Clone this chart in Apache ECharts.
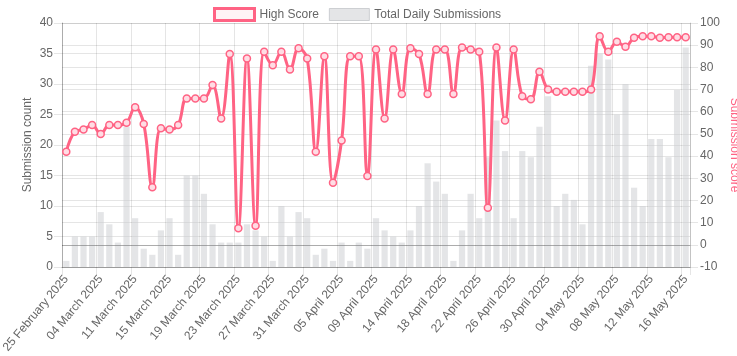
<!DOCTYPE html>
<html>
<head>
<meta charset="utf-8">
<script src="https://cdn.jsdelivr.net/npm/echarts@6/dist/echarts.min.js"></script>
<style>
html,body{margin:0;padding:0;background:#fff;}
#chart{width:737px;height:356px;}
</style>
</head>
<body>
<div id="chart"></div>
<script>
const dates = [
  "25 February 2025","26 February 2025","28 February 2025","02 March 2025",
  "04 March 2025","05 March 2025","07 March 2025","09 March 2025",
  "11 March 2025","12 March 2025","13 March 2025","14 March 2025",
  "15 March 2025","16 March 2025","17 March 2025","18 March 2025",
  "19 March 2025","20 March 2025","21 March 2025","22 March 2025",
  "23 March 2025","24 March 2025","25 March 2025","26 March 2025",
  "27 March 2025","28 March 2025","29 March 2025","30 March 2025",
  "31 March 2025","01 April 2025","02 April 2025","04 April 2025",
  "05 April 2025","06 April 2025","07 April 2025","08 April 2025",
  "09 April 2025","10 April 2025","11 April 2025","13 April 2025",
  "14 April 2025","15 April 2025","16 April 2025","17 April 2025",
  "18 April 2025","19 April 2025","20 April 2025","21 April 2025",
  "22 April 2025","23 April 2025","24 April 2025","25 April 2025",
  "26 April 2025","27 April 2025","28 April 2025","29 April 2025",
  "30 April 2025","01 May 2025","02 May 2025","03 May 2025",
  "04 May 2025","05 May 2025","06 May 2025","07 May 2025",
  "08 May 2025","09 May 2025","10 May 2025","11 May 2025",
  "12 May 2025","13 May 2025","14 May 2025","15 May 2025",
  "16 May 2025"
];

const highScore = [
  42, 51, 52, 54, 50, 54, 54, 55, 62, 54.5,
  26, 52.5, 52, 54, 66, 66, 66, 72, 57, 86,
  7.5, 84, 8.6, 87, 81, 87, 79, 88.6, 84, 42,
  85, 28, 47, 85, 85, 31, 88, 57, 88, 68,
  88.6, 86, 68, 88, 88, 68, 89, 88, 87, 16.7,
  89, 56, 88, 67, 65.6, 78, 70, 69, 69, 69,
  69, 70, 94, 87, 91.6, 89.3, 93.4, 94, 94, 93.4,
  93.6, 93.6, 93.6
];

const dailySubmissions = [
  1, 5, 5, 5, 9, 7, 4, 23, 8, 3,
  2, 6, 8, 2, 15, 15, 12, 7, 4, 4,
  4, 7, 6, 5, 1, 10, 5, 9, 8, 2,
  3, 1, 4, 1, 4, 3, 8, 6, 5, 4,
  6, 10, 17, 14, 12, 1, 6, 12, 8, 18,
  24, 19, 8, 19, 18, 23, 28, 10, 12, 11,
  7, 33, 35, 34, 25, 30, 13, 10, 21, 21,
  18, 29, 36
];

const countTicks = { min: 0, max: 40, interval: 5 };
const scoreTicks = { min: -10, max: 100, interval: 10 };

const FONT = "'Liberation Sans', Arial, Helvetica, sans-serif";
const PINK = '#ff6384';
const GRID = 'rgba(0,0,0,0.1)';

const chart = echarts.init(document.getElementById('chart'), null, { renderer: 'canvas' });
chart.setOption({
  animation: false,
  textStyle: { fontFamily: FONT },
  legend: {
    left: 208, top: 2,
    itemWidth: 40, itemHeight: 12, itemGap: 10,
    textStyle: { fontSize: 12, color: '#666', fontFamily: FONT },
    data: [
      { name: 'High Score', icon: 'rect',
        itemStyle: { color: 'rgba(255,99,132,0.08)', borderColor: PINK, borderWidth: 3 } },
      { name: 'Total Daily Submissions', icon: 'rect',
        itemStyle: { color: 'rgba(201,203,207,0.5)', borderColor: 'rgba(190,192,196,0.7)', borderWidth: 1 } }
    ]
  },
  grid: { left: 62, right: 47, top: 23, bottom: 89, containLabel: false, outerBoundsMode: 'none' },
  xAxis: {
    type: 'category',
    data: dates,
    boundaryGap: true,
    axisLine: { show: true, lineStyle: { color: 'rgba(0,0,0,0.25)' } },
    axisTick: { show: true, interval: 3, length: 8, lineStyle: { color: GRID } },
    axisLabel: { interval: 3, rotate: 50, fontSize: 12, color: '#666', margin: 10, fontFamily: FONT },
    splitLine: { show: true, interval: 3, lineStyle: { color: GRID } }
  },
  yAxis: [
    {
      type: 'value', position: 'left',
      min: countTicks.min, max: countTicks.max, interval: countTicks.interval,
      name: 'Submission count', nameLocation: 'middle', nameGap: 28, nameRotate: 90,
      nameMoveOverlap: false,
      nameTextStyle: { color: '#666', fontSize: 12, fontFamily: FONT },
      axisLine: { show: true, lineStyle: { color: 'rgba(0,0,0,0.25)' } },
      axisTick: { show: true, length: 8, lineStyle: { color: GRID } },
      axisLabel: { fontSize: 12, color: '#666', margin: 9, fontFamily: FONT },
      splitLine: { show: true, lineStyle: { color: GRID } }
    },
    {
      type: 'value', position: 'right',
      min: scoreTicks.min, max: scoreTicks.max, interval: scoreTicks.interval,
      name: 'Submission score', nameLocation: 'middle', nameGap: 38, nameRotate: -90,
      nameMoveOverlap: false,
      nameTextStyle: { color: PINK, fontSize: 12, fontFamily: FONT },
      axisLine: { show: true, lineStyle: { color: 'rgba(0,0,0,0.15)' } },
      axisTick: { show: true, length: 8, lineStyle: { color: GRID } },
      axisLabel: { fontSize: 12, color: '#666', margin: 10, fontFamily: FONT },
      splitLine: { show: true, lineStyle: { color: GRID } }
    }
  ],
  series: [
    {
      name: 'High Score',
      type: 'line',
      yAxisIndex: 1,
      data: highScore,
      smooth: 0.4,
      z: 5,
      symbol: 'circle',
      symbolSize: 7,
      showSymbol: true,
      showAllSymbol: true,
      lineStyle: { color: PINK, width: 3 },
      itemStyle: { color: 'rgba(255,220,228,1)', borderColor: PINK, borderWidth: 1.5 },
      markLine: {
        silent: true, symbol: 'none', label: { show: false },
        lineStyle: { color: 'rgba(0,0,0,0.25)', type: 'solid', width: 1 },
        data: [{ yAxis: 0 }]
      }
    },
    {
      name: 'Total Daily Submissions',
      type: 'bar',
      yAxisIndex: 0,
      data: dailySubmissions,
      barWidth: '72%',
      z: 2,
      itemStyle: { color: 'rgba(201,203,207,0.5)' }
    }
  ]
});
</script>
</body>
</html>
